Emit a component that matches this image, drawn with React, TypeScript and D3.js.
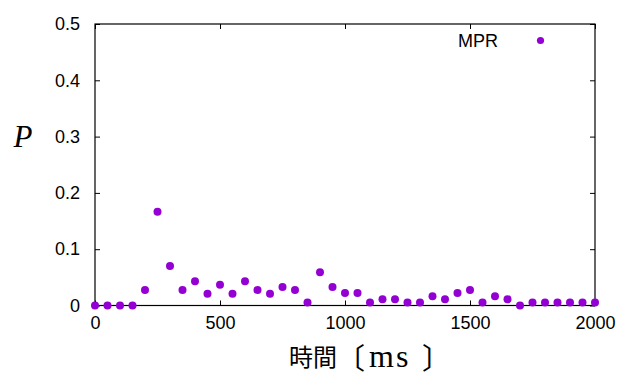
import * as d3 from 'd3';
import { useEffect, useRef } from 'react';

// time (ms), step of 50
const times = d3.range(0, 2001, 50);
const mprValues = [
  0, 0, 0, 0, 0.0275, 0.1665, 0.07, 0.0275, 0.043, 0.021, 0.037, 0.021, 0.043,
  0.0275, 0.021, 0.033, 0.0275, 0.0055, 0.059, 0.033, 0.022, 0.022, 0.0055,
  0.011, 0.011, 0.0055, 0.0055, 0.0165, 0.011, 0.022, 0.0275, 0.0055, 0.0165,
  0.011, 0, 0.0055, 0.0055, 0.0055, 0.0055, 0.0055, 0.0055,
];
const xTicks = [0, 500, 1000, 1500, 2000];
const yTicks = [0, 0.1, 0.2, 0.3, 0.4, 0.5];

const purple = '#9400d3';

export default function App() {
  const ref = useRef<SVGSVGElement>(null);

  const width = 625;
  const height = 385;
  const margin = { top: 24, right: 30, bottom: 79.5, left: 95 };

  useEffect(() => {
    const svg = d3.select(ref.current);
    svg.selectAll('*').remove();

    const x = d3.scaleLinear([0, 2000], [margin.left, width - margin.right]);
    const y = d3.scaleLinear([0, 0.5], [height - margin.bottom, margin.top]);
    const font = '"Liberation Sans", Arial, sans-serif';
    const cjk = '"Noto Sans CJK JP", sans-serif';
    const serif = '"Liberation Serif", "DejaVu Serif", serif';

    const axisStyle = (g) => {
      g.select('.domain').remove();
      g.selectAll('.tick line').attr('stroke', '#000').attr('stroke-width', 1);
      g.selectAll('.tick text')
        .attr('fill', '#000')
        .style('font-family', font)
        .style('font-size', '18px');
    };

    // bottom / top
    svg
      .append('g')
      .attr('transform', `translate(0,${y(0)})`)
      .call(
        d3
          .axisBottom(x)
          .tickValues(xTicks)
          .tickSize(-5)
          .tickPadding(11)
          .tickFormat(d3.format('d'))
      )
      .call(axisStyle);
    svg
      .append('g')
      .attr('transform', `translate(0,${y(0.5)})`)
      .call(d3.axisTop(x).tickValues(xTicks).tickSize(-5).tickFormat(() => ''))
      .call(axisStyle);
    // left / right
    svg
      .append('g')
      .attr('transform', `translate(${x(0)},0)`)
      .call(
        d3
          .axisLeft(y)
          .tickValues(yTicks)
          .tickSize(-5)
          .tickPadding(15)
          .tickFormat((d) => (d === 0 ? '0' : d3.format('.1f')(d)))
      )
      .call(axisStyle);
    svg
      .append('g')
      .attr('transform', `translate(${x(2000)},0)`)
      .call(d3.axisRight(y).tickValues(yTicks).tickSize(-5).tickFormat(() => ''))
      .call(axisStyle);

    // frame
    svg
      .append('rect')
      .attr('x', x(0))
      .attr('y', y(0.5))
      .attr('width', x(2000) - x(0))
      .attr('height', y(0) - y(0.5))
      .attr('fill', 'none')
      .attr('stroke', '#000')
      .attr('stroke-width', 1.2);

    // points
    svg
      .append('g')
      .attr('fill', purple)
      .selectAll('circle')
      .data(times.map((t, i) => [t, mprValues[i]]))
      .join('circle')
      .attr('cx', (d) => x(d[0]))
      .attr('cy', (d) => y(d[1]))
      .attr('r', 4);

    // legend
    svg
      .append('text')
      .attr('x', 498)
      .attr('y', 47)
      .attr('text-anchor', 'end')
      .style('font-family', font)
      .style('font-size', '18px')
      .text('MPR');
    svg
      .append('circle')
      .attr('cx', 540.5)
      .attr('cy', 40.5)
      .attr('r', 3.6)
      .attr('fill', purple);

    // y title
    svg
      .append('text')
      .attr('x', 23)
      .attr('y', 147)
      .attr('text-anchor', 'middle')
      .style('font-family', serif)
      .style('font-style', 'italic')
      .style('font-size', '31px')
      .text('P');

    // x title: 時間〔ms〕
    const title = svg.append('g');
    title
      .append('text')
      .attr('x', 289)
      .attr('y', 366)
      .style('font-family', cjk)
      .style('font-size', '24px')
      .text('時間');
    title
      .append('text')
      .attr('x', 336)
      .attr('y', 369)
      .style('font-family', cjk)
      .style('font-size', '29px')
      .text('〔');
    title
      .append('text')
      .attr('x', 369)
      .attr('y', 367)
      .style('font-family', serif)
      .style('font-size', '32px')
      .style('letter-spacing', '2px')
      .text('ms');
    title
      .append('text')
      .attr('x', 422)
      .attr('y', 369)
      .style('font-family', cjk)
      .style('font-size', '29px')
      .text('〕');
  }, []);

  return (
    <svg
      ref={ref}
      width={width}
      height={height}
      style={{ position: 'absolute', left: 0, top: 0, background: '#fff' }}
    ></svg>
  );
}
